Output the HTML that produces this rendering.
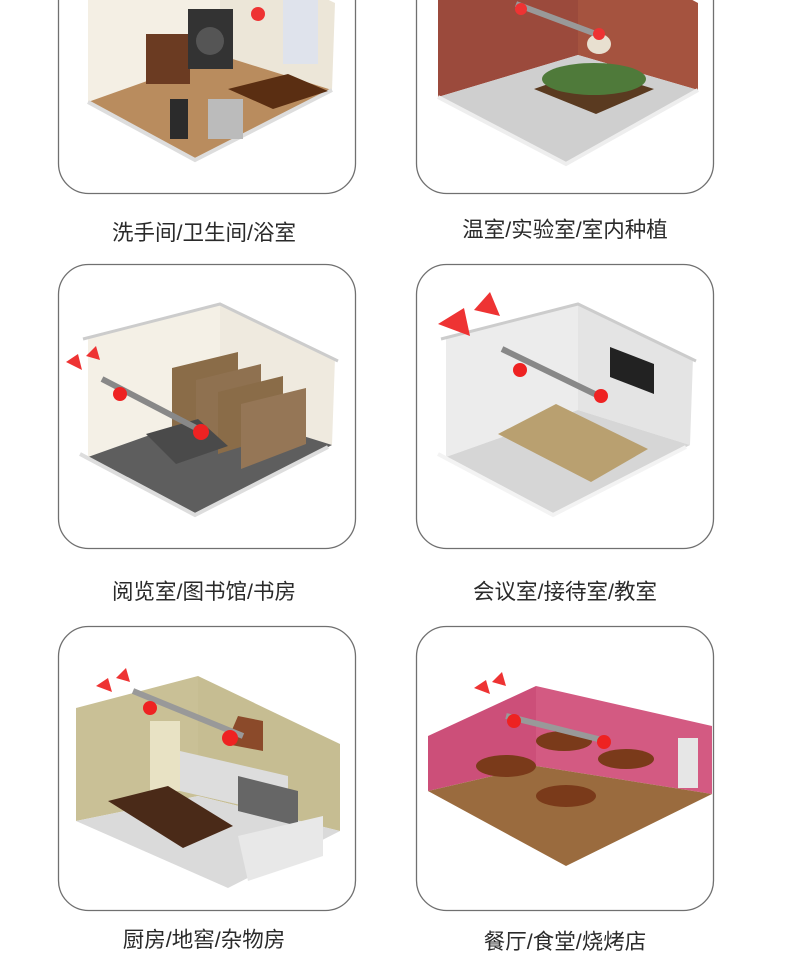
<!DOCTYPE html>
<html><head><meta charset="utf-8"><style>
html,body{margin:0;padding:0;background:#fff;}
body{width:790px;height:960px;position:relative;overflow:hidden;font-family:"Liberation Sans","Noto Sans CJK SC",sans-serif;}
.lbl{position:absolute;width:300px;text-align:center;font-size:21.5px;color:#2a2a2a;}
svg{position:absolute;left:0;top:0;}
</style></head><body>
<svg width="790" height="960" viewBox="0 0 790 960">
<defs>
<g id="card"><rect x="0.5" y="0.5" width="297" height="284" rx="30" fill="#fff" stroke="#707070" stroke-width="1.3"/></g>
</defs>

<g transform="translate(58,-91)">
<use href="#card"/>
<polygon points="30,73 162,39 162,146 30,193" fill="#f4efe4"/>
<polygon points="162,39 277,94 274,181 162,146" fill="#ece6d8"/>
<polygon points="30,193 162,146 274,181 137,251" fill="#b98c5e"/>
<polyline points="30,193 137,251 274,181" fill="none" stroke="#ddd" stroke-width="4"/>
<rect x="88" y="125" width="44" height="50" fill="#6b3b22"/>
<rect x="130" y="100" width="45" height="60" fill="#333"/>
<circle cx="152" cy="132" r="14" fill="#555"/>
<polygon points="170,180 230,165 270,182 215,200" fill="#5a2e12"/>
<rect x="225" y="80" width="35" height="75" fill="#dfe3ec"/>
<rect x="150" y="190" width="35" height="40" fill="#bbb"/>
<rect x="112" y="190" width="18" height="40" fill="#2b2b2b"/>
<circle cx="200" cy="105" r="7" fill="#e33"/>
</g>

<g transform="translate(416,-91)">
<use href="#card"/>
<polygon points="22,73 162,30 162,146 22,188" fill="#9b4a3c"/>
<polygon points="162,30 282,94 282,181 162,146" fill="#a5533f"/>
<polygon points="22,188 162,146 282,181 150,255" fill="#cfcfcf"/>
<polyline points="22,188 150,255 282,181" fill="none" stroke="#eee" stroke-width="4"/>
<polygon points="118,180 175,160 238,180 180,205" fill="#5a3a20"/>
<ellipse cx="178" cy="170" rx="52" ry="16" fill="#4f7a3a"/>
<ellipse cx="183" cy="135" rx="12" ry="10" fill="#e8e0d0"/>
<line x1="100" y1="95" x2="180" y2="125" stroke="#999" stroke-width="6"/>
<circle cx="105" cy="100" r="6" fill="#e33"/>
<circle cx="183" cy="125" r="6" fill="#e33"/>
</g>

<g transform="translate(58,264)">
<use href="#card"/>
<polygon points="30,73 162,39 162,146 30,193" fill="#f4f0e6"/>
<polygon points="162,39 277,94 274,181 162,146" fill="#efeadf"/>
<polygon points="30,193 162,146 274,181 137,251" fill="#5e5e5e"/>
<polyline points="22,190 137,251 270,183" fill="none" stroke="#ddd" stroke-width="4"/>
<polyline points="25,75 162,40 280,97" fill="none" stroke="#ccc" stroke-width="3"/>
<polygon points="114,104 180,88 180,150 114,170" fill="#8a6c48"/>
<polygon points="138,116 203,100 203,160 138,180" fill="#8f7150"/>
<polygon points="160,128 225,112 225,170 160,190" fill="#8a6c48"/>
<polygon points="183,140 248,124 248,180 183,205" fill="#957656"/>
<polygon points="88,170 140,155 170,182 118,200" fill="#4a4a4a"/>
<line x1="44" y1="115" x2="140" y2="165" stroke="#888" stroke-width="6"/>
<circle cx="62" cy="130" r="7" fill="#e22"/>
<circle cx="143" cy="168" r="8" fill="#e22"/>
<polygon points="8,98 20,90 24,106" fill="#e33"/>
<polygon points="28,92 38,82 42,96" fill="#e33"/>
</g>

<g transform="translate(416,264)">
<use href="#card"/>
<polygon points="30,73 162,39 162,146 30,193" fill="#ececec"/>
<polygon points="162,39 277,94 274,181 162,146" fill="#e4e4e4"/>
<polygon points="30,193 162,146 274,181 137,251" fill="#d6d6d6"/>
<polyline points="22,190 137,251 270,183" fill="none" stroke="#f3f3f3" stroke-width="4"/>
<polyline points="25,75 162,40 280,97" fill="none" stroke="#ccc" stroke-width="3"/>
<polygon points="194,83 238,100 238,130 194,113" fill="#222"/>
<polygon points="82,170 140,140 232,185 175,218" fill="#b9a070"/>
<line x1="86" y1="85" x2="185" y2="133" stroke="#888" stroke-width="6"/>
<circle cx="104" cy="106" r="7" fill="#e22"/>
<circle cx="185" cy="132" r="7" fill="#e22"/>
<polygon points="22,60 48,44 54,72" fill="#e33"/>
<polygon points="58,46 74,28 84,52" fill="#e33"/>
</g>

<g transform="translate(58,626)">
<use href="#card"/>
<polygon points="18,82 140,50 140,170 18,195" fill="#c9c096"/>
<polygon points="140,50 282,118 282,205 140,170" fill="#c6bd92"/>
<polygon points="18,195 140,170 282,205 170,262" fill="#dadada"/>
<rect x="92" y="95" width="30" height="70" fill="#e8e2c4"/>
<polygon points="122,125 230,150 230,190 122,165" fill="#ddd"/>
<polygon points="180,90 205,95 205,125 168,118" fill="#8b4a2a"/>
<polygon points="180,150 240,165 240,200 180,185" fill="#666"/>
<polygon points="50,175 110,160 175,200 125,222" fill="#4a2a18"/>
<polygon points="180,210 265,190 265,230 190,255" fill="#e8e8e8"/>
<line x1="75" y1="65" x2="185" y2="110" stroke="#999" stroke-width="6"/>
<circle cx="92" cy="82" r="7" fill="#e22"/>
<circle cx="172" cy="112" r="8" fill="#e22"/>
<polygon points="38,60 50,52 54,66" fill="#e33"/>
<polygon points="58,52 68,42 72,56" fill="#e33"/>
</g>

<g transform="translate(416,626)">
<use href="#card"/>
<polygon points="12,110 120,60 120,140 12,165" fill="#cc4f79"/>
<polygon points="120,60 296,100 296,168 120,140" fill="#d35a82"/>
<polygon points="12,165 120,140 296,168 150,240" fill="#9a6b3e"/>
<rect x="262" y="112" width="20" height="50" fill="#e6e6e6"/>
<ellipse cx="148" cy="115" rx="28" ry="10" fill="#7a3a1a"/>
<ellipse cx="90" cy="140" rx="30" ry="11" fill="#7a3a1a"/>
<ellipse cx="210" cy="133" rx="28" ry="10" fill="#7a3a1a"/>
<ellipse cx="150" cy="170" rx="30" ry="11" fill="#7a3a1a"/>
<line x1="90" y1="90" x2="190" y2="115" stroke="#999" stroke-width="6"/>
<circle cx="98" cy="95" r="7" fill="#e22"/>
<circle cx="188" cy="116" r="7" fill="#e22"/>
<polygon points="58,62 70,54 74,68" fill="#e33"/>
<polygon points="76,56 86,46 90,60" fill="#e33"/>
</g>
</svg>
<div class="lbl" style="left:54px;top:216px;">洗手间/卫生间/浴室</div>
<div class="lbl" style="left:415px;top:213px;">温室/实验室/室内种植</div>
<div class="lbl" style="left:54px;top:575px;">阅览室/图书馆/书房</div>
<div class="lbl" style="left:415px;top:575px;">会议室/接待室/教室</div>
<div class="lbl" style="left:54px;top:923px;">厨房/地窖/杂物房</div>
<div class="lbl" style="left:415px;top:925px;">餐厅/食堂/烧烤店</div>
</body></html>
